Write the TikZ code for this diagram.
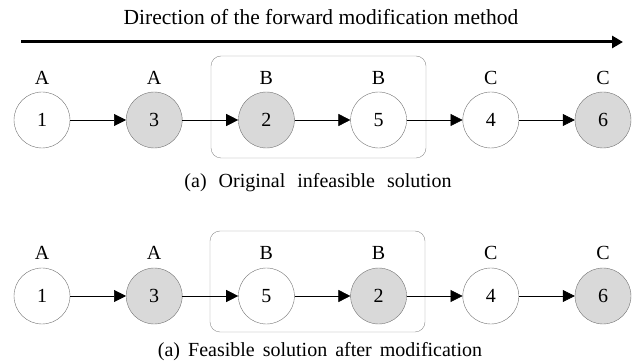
\documentclass[tikz,border=0pt]{standalone}
\usepackage{fontspec}
\setmainfont{Liberation Serif}
\usepackage{tikz}
\usetikzlibrary{arrows.meta,positioning,calc}

\begin{document}
\begin{tikzpicture}[
  x=1pt, y=-1pt,
  font=\fontsize{20}{24}\selectfont,
  job/.style={circle, draw=black!55, thin, fill=white, minimum size=56pt, inner sep=0pt},
  picked/.style={job, fill=black!15},
  tag/.style={inner sep=0pt, anchor=base},
  link/.style={-{Triangle[length=12pt, width=12pt]}, semithick},
  direction/.style={-{Triangle[length=11pt, width=12pt]}, line width=3pt},
  group/.style={draw=black!45, thin, rounded corners=10pt}
]

% Picture size 635 x 363, y grows downwards
\useasboundingbox (0,0) rectangle (635,363);
\def\pitch{112.2}

% Direction of the method
\node[tag, font=\fontsize{21.5}{26}\selectfont] (title) at (321,25) {Direction of the forward modification method};
\coordinate (dirL) at (21,42);
\coordinate (dirR) at (623,42);
\draw[direction] (dirL) -- (dirR);

% (a) Original sequence
\draw[group] (211,56) rectangle (426,158);
\node[job]    (a1) at (42+0*\pitch,120) {1};
\node[picked] (a2) at (42+1*\pitch,120) {3};
\node[picked] (a3) at (42+2*\pitch,120) {2};
\node[job]    (a4) at (42+3*\pitch,120) {5};
\node[job]    (a5) at (42+4*\pitch,120) {4};
\node[picked] (a6) at (42+5*\pitch,120) {6};

\foreach \i/\m in {1/A, 2/A, 3/B, 4/B, 5/C, 6/C} {
  \node[tag] (ma\i) at ($(a\i.center)+(0,-35)$) {\m};
}
\foreach \i/\j in {1/2, 2/3, 3/4, 4/5, 5/6} {
  \draw[link] (a\i) -- (a\j);
}
\node[tag] (capa) at (318,188) {(a)\hspace{12pt}Original\hspace{12pt}infeasible\hspace{12pt}solution};

% (a) Sequence after the modification
\draw[group] (210,231) rectangle (425,332);
\node[job]    (b1) at (42+0*\pitch,296) {1};
\node[picked] (b2) at (42+1*\pitch,296) {3};
\node[job]    (b3) at (42+2*\pitch,296) {5};
\node[picked] (b4) at (42+3*\pitch,296) {2};
\node[job]    (b5) at (42+4*\pitch,296) {4};
\node[picked] (b6) at (42+5*\pitch,296) {6};

\foreach \i/\m in {1/A, 2/A, 3/B, 4/B, 5/C, 6/C} {
  \node[tag] (mb\i) at ($(b\i.center)+(0,-36)$) {\m};
}
\foreach \i/\j in {1/2, 2/3, 3/4, 4/5, 5/6} {
  \draw[link] (b\i) -- (b\j);
}
\node[tag] (capb) at (320,357) {(a)\hspace{8pt}Feasible\hspace{8pt}solution\hspace{8pt}after\hspace{8pt}modification};

\end{tikzpicture}
\end{document}
